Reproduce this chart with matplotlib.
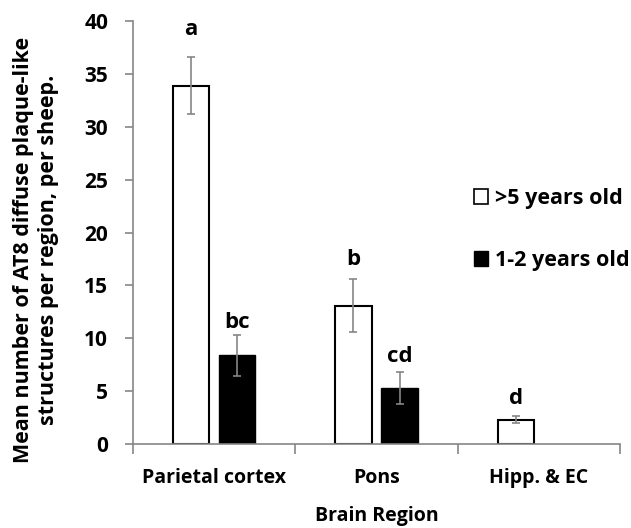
import matplotlib.pyplot as plt
from matplotlib.patches import Patch
import numpy as np

plt.rcParams['font.family'] = ['Open Sans', 'DejaVu Sans']
plt.rcParams['font.weight'] = 'bold'

regions = ["Parietal cortex", "Pons", "Hipp. & EC"]
old_mean = [33.9, 13.1, 2.3]
old_err = [2.7, 2.5, 0.35]
young_mean = [8.4, 5.3, 0.0]
young_err = [1.95, 1.5, 0.0]
old_letters = ["a", "b", "d"]
young_letters = ["bc", "cd", ""]
old_letter_y = [38.7, 16.9, 3.8]
young_letter_y = [11.0, 7.75, 0.0]

fig = plt.figure(figsize=(6.31, 5.28), dpi=100)
ax = fig.add_axes([0.2108, 0.159, 0.7718, 0.8012])

x = np.arange(len(regions))
w = 0.223
off = 0.142
grey = '#868686'

ax.bar(x - off, old_mean, w, color='white', edgecolor='black', linewidth=1.5,
       yerr=old_err, error_kw=dict(ecolor=grey, elinewidth=1.2, capsize=3, capthick=1.2))
has = [i for i, v in enumerate(young_mean) if v > 0]
ax.bar(x[has] + off, [young_mean[i] for i in has], w, color='black', edgecolor='black',
       yerr=[young_err[i] for i in has],
       error_kw=dict(ecolor=grey, elinewidth=1.2, capsize=3, capthick=1.2))

for i in range(len(regions)):
    ax.text(x[i] - off, old_letter_y[i], old_letters[i], ha='center', va='baseline',
            fontsize=16, fontweight='bold')
    if young_letters[i]:
        ax.text(x[i] + off, young_letter_y[i], young_letters[i], ha='center', va='baseline',
                fontsize=16, fontweight='bold')

ax.set_xlim(-0.5, 2.5)
ax.set_ylim(0, 40)
ax.set_yticks(range(0, 41, 5))
ax.set_xticks([-0.5, 0.5, 1.5, 2.5])
ax.set_xticklabels([])
ax.tick_params(axis='x', length=7, color=grey, width=1.2)
ax.tick_params(axis='y', length=6, color=grey, width=1.2, labelsize=15, pad=12)
for t in ax.get_yticklabels():
    t.set_fontweight('bold')
for i, r in enumerate(regions):
    ax.text(x[i], -3.2, r, ha='center', va='center', fontsize=14, fontweight='bold')

for s in ['top', 'right']:
    ax.spines[s].set_visible(False)
for s in ['left', 'bottom']:
    ax.spines[s].set_color(grey)
    ax.spines[s].set_linewidth(1.2)

ax.set_xlabel("Brain Region", fontsize=14, fontweight='bold', labelpad=34)
ax.set_ylabel("Mean number of AT8 diffuse plaque-like\nstructures per region, per sheep.",
              fontsize=15.5, fontweight='bold', linespacing=1.25)
ax.yaxis.set_label_coords(-0.152, 0.46)

handles = [Patch(facecolor='white', edgecolor='black', linewidth=1.2),
           Patch(facecolor='black', edgecolor='black')]
ax.legend(handles, [">5 years old", "1-2 years old"], loc='upper left',
          bbox_to_anchor=(0.70, 0.605), frameon=False, labelspacing=1.9,
          handlelength=0.65, handleheight=0.65, handletextpad=0.35,
          borderaxespad=0, borderpad=0, prop=dict(weight='bold', size=15.5))

plt.savefig("out.png")
